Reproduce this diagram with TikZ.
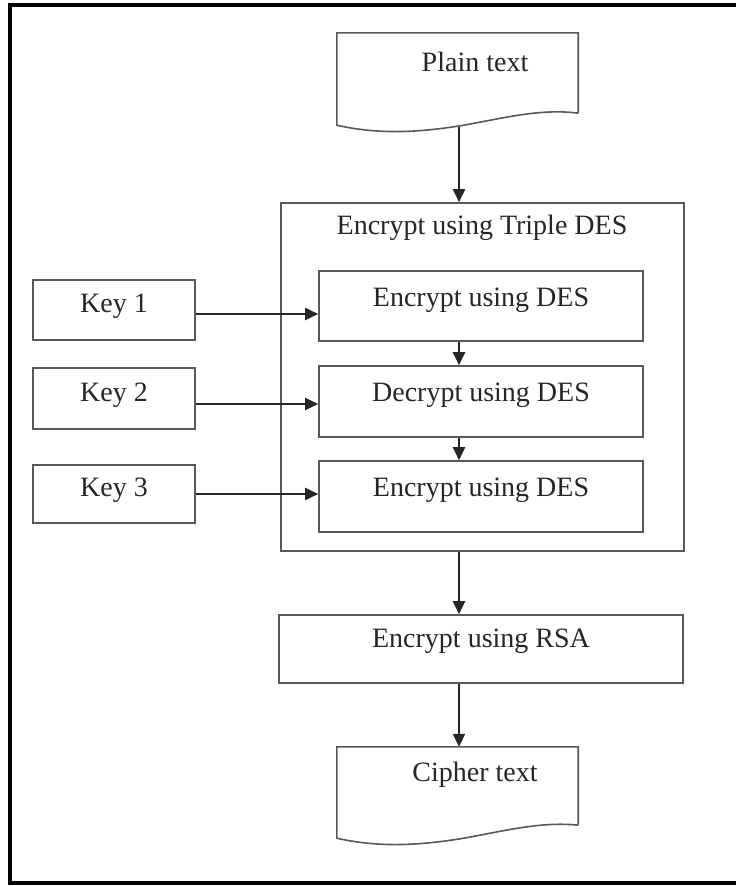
\documentclass[tikz,border=0pt]{standalone}
\usepackage{fontspec}
\setmainfont{Liberation Serif}
\usetikzlibrary{arrows.meta,positioning,calc}
\tikzstyle{box}=[draw=black!65,line width=1.6pt,inner sep=0pt]
\tikzstyle{lbl}=[font=\fontsize{28}{32}\selectfont,text=black!85,inner sep=0pt]
\tikzstyle{flow}=[draw=black!85,line width=2pt,-{Triangle[length=13pt,width=12pt]}]

\begin{document}
\begin{tikzpicture}[x=1pt,y=-1pt]
    \useasboundingbox (0,0) rectangle (736,886);
    \fill[white] (0,0) rectangle (736,886);
    % outer frame, open on the right
    \draw[line width=4pt] (760,5) -- (10,5) -- (10,883) -- (760,883);

    % plain text document
    \node [minimum width=241pt,minimum height=80pt,inner sep=0pt] (plain) at (457.5,73) {};
    \draw [black!65,line width=1.6pt] (plain.south east) -- (plain.north east) -- (plain.north west)
      -- ($(plain.south west)+(0,12)$) .. controls (380,135) and (420,132) .. (459,126)
      .. controls (500,119) and (540,108) .. (plain.south east);
    \coordinate (plainout) at (459,127);
    \node [lbl] at (475,62) {Plain text};

    % triple DES block
    \node [box,minimum width=403pt,minimum height=348pt] (tdes) at (482.5,377) {};
    \node [lbl] (tdestitle) at (482,228) {Encrypt using Triple DES};
    \node [box,minimum width=324pt,minimum height=70pt] (enc1) at (481,306) {};
    \node [box,minimum width=324pt,minimum height=71pt] (dec2) at (481,401.5) {};
    \node [box,minimum width=324pt,minimum height=71pt] (enc3) at (481,496.5) {};
    \node [lbl] at (481,300) {Encrypt using DES};
    \node [lbl] at (481,395) {Decrypt using DES};
    \node [lbl] at (481,490) {Encrypt using DES};

    % keys
    \node [box,minimum width=162pt,minimum height=60pt] (key1) at (114,310) {};
    \node [box,minimum width=162pt,minimum height=61pt] (key2) at (114,398.5) {};
    \node [box,minimum width=162pt,minimum height=58pt] (key3) at (114,494) {};
    \node [lbl] at (114,306) {Key 1};
    \node [lbl] at (114,395) {Key 2};
    \node [lbl] at (114,490) {Key 3};

    % RSA
    \node [box,minimum width=404pt,minimum height=68pt] (rsa) at (481,649) {};
    \node [lbl] at (481,641) {Encrypt using RSA};

    % cipher text document
    \node [minimum width=241pt,minimum height=78pt,inner sep=0pt] (cipher) at (457.5,786) {};
    \draw [black!65,line width=1.6pt] (cipher.south east) -- (cipher.north east) -- (cipher.north west)
      -- ($(cipher.south west)+(0,13)$) .. controls (380,848) and (420,845) .. (459,839)
      .. controls (500,832) and (540,821) .. (cipher.south east);
    \node [lbl] at (475,775) {Cipher text};

    % connectors
    \draw [flow] (plainout) -- (plainout |- tdes.north);
    \draw [flow] ($(key1.east)+(0,4)$) -- ($(key1.east -| enc1.west)+(0,4)$);
    \draw [flow] ($(key2.east)+(0,5.5)$) -- ($(key2.east -| dec2.west)+(0,5.5)$);
    \draw [flow] (key3.east) -- (key3.east -| enc3.west);
    \draw [flow] (enc1.south -| plainout) -- (dec2.north -| plainout);
    \draw [flow] (dec2.south -| plainout) -- (enc3.north -| plainout);
    \draw [flow] (tdes.south -| plainout) -- (rsa.north -| plainout);
    \draw [flow] (rsa.south -| plainout) -- (cipher.north -| plainout);
\end{tikzpicture}
\end{document}
